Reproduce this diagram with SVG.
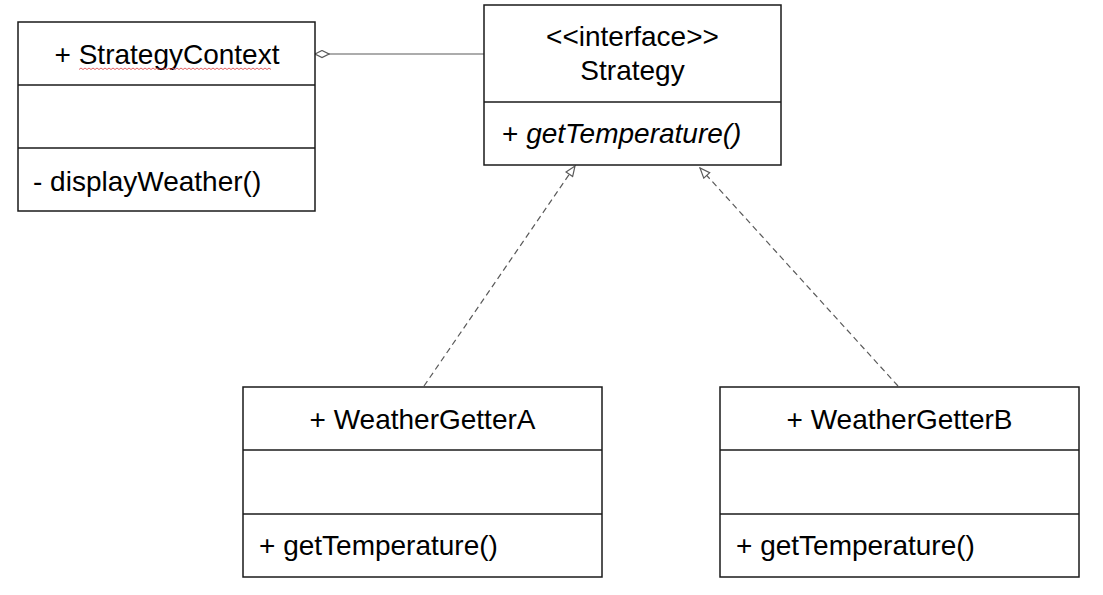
<svg xmlns="http://www.w3.org/2000/svg" width="1103" height="595" viewBox="0 0 1103 595">
<style>
  .box { fill: #ffffff; stroke: #1a1a1a; stroke-width: 1.5; }
  .div { stroke: #1a1a1a; stroke-width: 1.5; }
  .t { font-family: "Liberation Sans", Arial, sans-serif; font-size: 28px; fill: #000; }
  .c { text-anchor: middle; }
  .conn { fill: none; stroke: #5a5a5a; stroke-width: 1.2; }
  .dash { stroke-dasharray: 6 4; }
</style>
<defs>
  <marker id="tri" viewBox="0 0 12 10" refX="11" refY="5" markerWidth="12" markerHeight="10" markerUnits="userSpaceOnUse" orient="auto">
    <path d="M1,1 L11,5 L1,9 Z" fill="#ffffff" stroke="#5a5a5a" stroke-width="1.2" stroke-dasharray="none"/>
  </marker>
  <marker id="diamond" viewBox="0 0 16 9" refX="1" refY="4.5" markerWidth="16" markerHeight="9" markerUnits="userSpaceOnUse" orient="auto">
    <path d="M1,4.5 L8,1 L15,4.5 L8,8 Z" fill="#ffffff" stroke="#5a5a5a" stroke-width="1.2"/>
  </marker>
</defs>
<rect width="1103" height="595" fill="#ffffff"/>

<g id="connectors">
  <path class="conn" d="M315,54 L484,54" marker-start="url(#diamond)"/>
  <path class="conn dash" d="M424,386 L575,166" marker-end="url(#tri)"/>
  <path class="conn dash" d="M898,386 L700,168" marker-end="url(#tri)"/>
</g>

<g id="StrategyContext">
  <rect class="box" x="18" y="22" width="297" height="189"/>
  <line class="div" x1="18" y1="85" x2="315" y2="85"/>
  <line class="div" x1="18" y1="148" x2="315" y2="148"/>
  <text class="t c" x="167" y="64">+ StrategyContext</text>
  <path d="M79,69.5 l2,-1.5 l2,1.5 l2,-1.5 l2,1.5 l2,-1.5 l2,1.5 l2,-1.5 l2,1.5 l2,-1.5 l2,1.5 l2,-1.5 l2,1.5 l2,-1.5 l2,1.5 l2,-1.5 l2,1.5 l2,-1.5 l2,1.5 l2,-1.5 l2,1.5 l2,-1.5 l2,1.5 l2,-1.5 l2,1.5 l2,-1.5 l2,1.5 l2,-1.5 l2,1.5 l2,-1.5 l2,1.5 l2,-1.5 l2,1.5 l2,-1.5 l2,1.5 l2,-1.5 l2,1.5 l2,-1.5 l2,1.5 l2,-1.5 l2,1.5 l2,-1.5 l2,1.5 l2,-1.5 l2,1.5 l2,-1.5 l2,1.5 l2,-1.5 l2,1.5 l2,-1.5 l2,1.5 l2,-1.5 l2,1.5 l2,-1.5 l2,1.5 l2,-1.5 l2,1.5 l2,-1.5 l2,1.5 l2,-1.5 l2,1.5 l2,-1.5 l2,1.5 l2,-1.5 l2,1.5 l2,-1.5 l2,1.5 l2,-1.5 l2,1.5 l2,-1.5 l2,1.5 l2,-1.5 l2,1.5 l2,-1.5 l2,1.5 l2,-1.5 l2,1.5 l2,-1.5 l2,1.5 l2,-1.5 l2,1.5 l2,-1.5 l2,1.5 l2,-1.5 l2,1.5 l2,-1.5 l2,1.5 l2,-1.5 l2,1.5 l2,-1.5 l2,1.5 l2,-1.5 l2,1.5 l2,-1.5 l2,1.5 l2,-1.5 l2,1.5" fill="none" stroke="#e05050" stroke-width="0.9"/>
  <text class="t" x="33" y="191">- displayWeather()</text>
</g>

<g id="Strategy">
  <rect class="box" x="484" y="5" width="297" height="160"/>
  <line class="div" x1="484" y1="102" x2="781" y2="102"/>
  <text class="t c" x="632.5" y="46">&lt;&lt;interface&gt;&gt;</text>
  <text class="t c" x="632.5" y="80">Strategy</text>
  <text class="t" x="502" y="143">+ <tspan font-style="italic">getTemperature()</tspan></text>
</g>

<g id="WeatherGetterA">
  <rect class="box" x="243" y="387" width="359" height="190"/>
  <line class="div" x1="243" y1="450" x2="602" y2="450"/>
  <line class="div" x1="243" y1="514" x2="602" y2="514"/>
  <text class="t c" x="422.5" y="429">+ WeatherGetterA</text>
  <text class="t" x="259" y="555">+ getTemperature()</text>
</g>

<g id="WeatherGetterB">
  <rect class="box" x="720" y="387" width="359" height="190"/>
  <line class="div" x1="720" y1="450" x2="1079" y2="450"/>
  <line class="div" x1="720" y1="514" x2="1079" y2="514"/>
  <text class="t c" x="899.5" y="429">+ WeatherGetterB</text>
  <text class="t" x="736" y="555">+ getTemperature()</text>
</g>
</svg>
